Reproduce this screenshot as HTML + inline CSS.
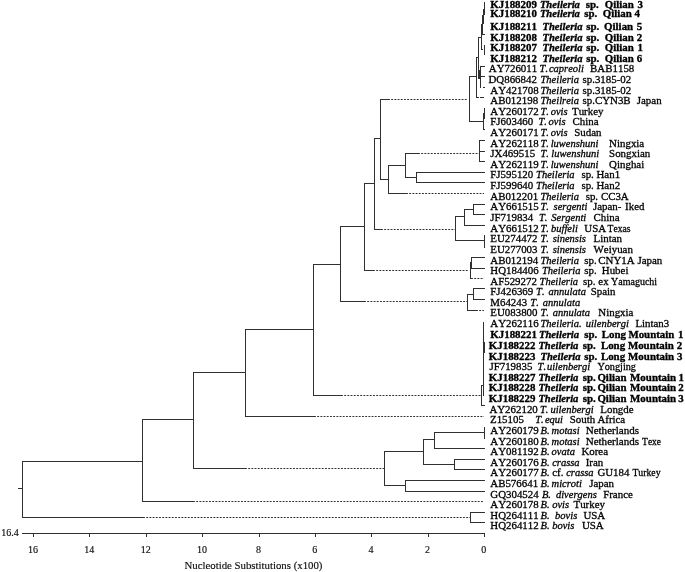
<!DOCTYPE html>
<html><head><meta charset="utf-8"><title>Phylogenetic tree</title>
<style>
html,body{margin:0;padding:0;background:#fff;}
body{width:685px;height:572px;overflow:hidden;position:relative;}
svg{position:absolute;left:0;top:0;filter:blur(0.35px);}
text{font-family:"Liberation Serif","Times New Roman",serif;font-size:10.9px;fill:#000;font-kerning:none;stroke:#000;stroke-width:0.3px;}
.b{font-weight:bold;stroke-width:0.34px;}
.i{font-style:italic;font-size:10.5px;}
.bi{font-weight:bold;font-style:italic;font-size:10.6px;stroke-width:0.34px;}
.a{font-size:10px;fill:#111;stroke-width:0.15px;}
.t{font-size:10.8px;fill:#111;stroke-width:0.15px;}
</style></head><body>
<svg width="685" height="572" viewBox="0 0 685 572">

<g stroke="#303030" stroke-width="1" fill="none" shape-rendering="crispEdges">
<line x1="484.5" y1="2" x2="484.5" y2="15"/>
<line x1="483.5" y1="9" x2="483.5" y2="24"/>
<line x1="482.5" y1="15" x2="482.5" y2="35"/>
<line x1="481.5" y1="24" x2="481.5" y2="35"/>
<line x1="481" y1="34.5" x2="485" y2="34.5"/>
<line x1="481.5" y1="34" x2="481.5" y2="50"/>
<line x1="481" y1="49.5" x2="483" y2="49.5"/>
<line x1="484.5" y1="45" x2="484.5" y2="55"/>
<line x1="478.5" y1="37" x2="478.5" y2="79"/>
<line x1="478" y1="37.5" x2="481" y2="37.5"/>
<line x1="476.5" y1="57" x2="476.5" y2="98"/>
<line x1="476" y1="57.5" x2="479" y2="57.5"/>
<line x1="476" y1="97.5" x2="479" y2="97.5"/>
<line x1="480" y1="97.5" x2="484" y2="97.5"/>
<line x1="480.5" y1="66" x2="480.5" y2="88"/>
<line x1="480" y1="66.5" x2="485" y2="66.5"/>
<line x1="480" y1="76.5" x2="485" y2="76.5"/>
<line x1="479.5" y1="70" x2="479.5" y2="79"/>
<line x1="483" y1="87.5" x2="485" y2="87.5"/>
<line x1="469" y1="76.5" x2="477" y2="76.5"/>
<line x1="469.5" y1="76" x2="469.5" y2="122"/>
<line x1="469" y1="121.5" x2="484" y2="121.5"/>
<line x1="483.5" y1="113" x2="483.5" y2="130"/>
<line x1="484.5" y1="108" x2="484.5" y2="119"/>
<line x1="483" y1="129.5" x2="485" y2="129.5"/>
<line x1="388" y1="99.5" x2="468" y2="99.5" stroke-dasharray="1.9 1.3" shape-rendering="auto"/>
<line x1="380" y1="99.5" x2="388" y2="99.5"/>
<line x1="380.5" y1="99" x2="380.5" y2="180"/>
<line x1="380" y1="179.5" x2="389" y2="179.5"/>
<line x1="374" y1="138.5" x2="381" y2="138.5"/>
<line x1="374.5" y1="138" x2="374.5" y2="230"/>
<line x1="374" y1="229.5" x2="381" y2="229.5"/>
<line x1="381" y1="229.5" x2="455" y2="229.5" stroke-dasharray="1.9 1.3" shape-rendering="auto"/>
<line x1="479.5" y1="140" x2="479.5" y2="162"/>
<line x1="479" y1="140.5" x2="485" y2="140.5"/>
<line x1="479" y1="151.5" x2="485" y2="151.5"/>
<line x1="479" y1="161.5" x2="485" y2="161.5"/>
<line x1="405" y1="153.5" x2="418" y2="153.5"/>
<line x1="418" y1="153.5" x2="479" y2="153.5" stroke-dasharray="1.9 1.3" shape-rendering="auto"/>
<line x1="405.5" y1="153" x2="405.5" y2="178"/>
<line x1="388" y1="165.5" x2="406" y2="165.5"/>
<line x1="388.5" y1="165" x2="388.5" y2="194"/>
<line x1="405" y1="177.5" x2="417" y2="177.5"/>
<line x1="416.5" y1="172" x2="416.5" y2="183"/>
<line x1="416" y1="172.5" x2="485" y2="172.5"/>
<line x1="416" y1="182.5" x2="485" y2="182.5"/>
<line x1="388" y1="193.5" x2="406" y2="193.5"/>
<line x1="406" y1="193.5" x2="484" y2="193.5" stroke-dasharray="1.9 1.3" shape-rendering="auto"/>
<line x1="364" y1="183.5" x2="375" y2="183.5"/>
<line x1="364.5" y1="183" x2="364.5" y2="271"/>
<line x1="364" y1="270.5" x2="373" y2="270.5"/>
<line x1="373" y1="270.5" x2="469" y2="270.5" stroke-dasharray="1.9 1.3" shape-rendering="auto"/>
<line x1="340" y1="226.5" x2="365" y2="226.5"/>
<line x1="340.5" y1="226" x2="340.5" y2="302"/>
<line x1="340" y1="301.5" x2="364" y2="301.5"/>
<line x1="364" y1="301.5" x2="467" y2="301.5" stroke-dasharray="1.9 1.3" shape-rendering="auto"/>
<line x1="313" y1="264.5" x2="341" y2="264.5"/>
<line x1="313.5" y1="264" x2="313.5" y2="396"/>
<line x1="313" y1="395.5" x2="341" y2="395.5"/>
<line x1="341" y1="395.5" x2="481" y2="395.5" stroke-dasharray="1.9 1.3" shape-rendering="auto"/>
<line x1="473" y1="204.5" x2="485" y2="204.5"/>
<line x1="473" y1="214.5" x2="485" y2="214.5"/>
<line x1="473.5" y1="204" x2="473.5" y2="215"/>
<line x1="464" y1="209.5" x2="474" y2="209.5"/>
<line x1="464.5" y1="209" x2="464.5" y2="226"/>
<line x1="464" y1="225.5" x2="485" y2="225.5"/>
<line x1="455" y1="216.5" x2="465" y2="216.5"/>
<line x1="455.5" y1="216" x2="455.5" y2="241"/>
<line x1="455" y1="240.5" x2="485" y2="240.5"/>
<line x1="484.5" y1="235" x2="484.5" y2="248"/>
<line x1="471" y1="257.5" x2="485" y2="257.5"/>
<line x1="471" y1="268.5" x2="485" y2="268.5"/>
<line x1="471.5" y1="257" x2="471.5" y2="269"/>
<line x1="470.5" y1="262" x2="470.5" y2="279"/>
<line x1="471" y1="278.5" x2="484" y2="278.5" stroke-dasharray="1.9 1.3" shape-rendering="auto"/>
<line x1="473" y1="288.5" x2="485" y2="288.5"/>
<line x1="473" y1="299.5" x2="485" y2="299.5"/>
<line x1="473.5" y1="288" x2="473.5" y2="300"/>
<line x1="467" y1="294.5" x2="474" y2="294.5"/>
<line x1="467.5" y1="294" x2="467.5" y2="311"/>
<line x1="467" y1="310.5" x2="476" y2="310.5"/>
<line x1="476" y1="310.5" x2="484" y2="310.5" stroke-dasharray="1.9 1.3" shape-rendering="auto"/>
<line x1="483.5" y1="322" x2="483.5" y2="396"/>
<line x1="484.5" y1="342" x2="484.5" y2="353"/>
<line x1="481.5" y1="385" x2="481.5" y2="406"/>
<line x1="481" y1="405.5" x2="485" y2="405.5"/>
<line x1="481" y1="385.5" x2="484" y2="385.5"/>
<line x1="245" y1="416.5" x2="314" y2="416.5"/>
<line x1="314" y1="416.5" x2="484" y2="416.5" stroke-dasharray="1.9 1.3" shape-rendering="auto"/>
<line x1="245.5" y1="329" x2="245.5" y2="417"/>
<line x1="245" y1="329.5" x2="314" y2="329.5"/>
<line x1="193" y1="372.5" x2="246" y2="372.5"/>
<line x1="193.5" y1="372" x2="193.5" y2="469"/>
<line x1="193" y1="468.5" x2="245" y2="468.5"/>
<line x1="245" y1="468.5" x2="384" y2="468.5" stroke-dasharray="1.9 1.3" shape-rendering="auto"/>
<line x1="142" y1="419.5" x2="194" y2="419.5"/>
<line x1="142.5" y1="419" x2="142.5" y2="502"/>
<line x1="142" y1="501.5" x2="193" y2="501.5"/>
<line x1="193" y1="501.5" x2="484" y2="501.5" stroke-dasharray="1.9 1.3" shape-rendering="auto"/>
<line x1="22" y1="461.5" x2="143" y2="461.5"/>
<line x1="22.5" y1="461" x2="22.5" y2="518"/>
<line x1="22" y1="517.5" x2="143" y2="517.5"/>
<line x1="143" y1="517.5" x2="470" y2="517.5" stroke-dasharray="1.9 1.3" shape-rendering="auto"/>
<line x1="18" y1="488.5" x2="23" y2="488.5"/>
<line x1="484.5" y1="427" x2="484.5" y2="439"/>
<line x1="434" y1="432.5" x2="485" y2="432.5"/>
<line x1="434.5" y1="432" x2="434.5" y2="449"/>
<line x1="434" y1="448.5" x2="485" y2="448.5"/>
<line x1="423" y1="439.5" x2="435" y2="439.5"/>
<line x1="423.5" y1="439" x2="423.5" y2="465"/>
<line x1="423" y1="464.5" x2="455" y2="464.5"/>
<line x1="454.5" y1="459" x2="454.5" y2="470"/>
<line x1="454" y1="459.5" x2="485" y2="459.5"/>
<line x1="454" y1="469.5" x2="485" y2="469.5"/>
<line x1="384" y1="451.5" x2="424" y2="451.5"/>
<line x1="405" y1="480.5" x2="485" y2="480.5"/>
<line x1="405" y1="491.5" x2="485" y2="491.5"/>
<line x1="405.5" y1="480" x2="405.5" y2="492"/>
<line x1="384" y1="485.5" x2="406" y2="485.5"/>
<line x1="384.5" y1="451" x2="384.5" y2="486"/>
<line x1="470" y1="512.5" x2="485" y2="512.5"/>
<line x1="470" y1="522.5" x2="485" y2="522.5"/>
<line x1="470.5" y1="512" x2="470.5" y2="523"/>
<line x1="22" y1="533.5" x2="485" y2="533.5"/>
<line x1="484.5" y1="533" x2="484.5" y2="537"/>
<line x1="428.5" y1="533" x2="428.5" y2="537"/>
<line x1="371.5" y1="533" x2="371.5" y2="537"/>
<line x1="315.5" y1="533" x2="315.5" y2="537"/>
<line x1="259.5" y1="533" x2="259.5" y2="537"/>
<line x1="202.5" y1="533" x2="202.5" y2="537"/>
<line x1="146.5" y1="533" x2="146.5" y2="537"/>
<line x1="89.5" y1="533" x2="89.5" y2="537"/>
<line x1="33.5" y1="533" x2="33.5" y2="537"/>
</g>
<text x="490.3" y="7.9" class="b">KJ188209</text>
<text x="539.9" y="7.9" class="bi">Theileria</text>
<text x="585.7" y="7.9" class="b">sp.</text>
<text x="604.7" y="7.9" class="b">Qilian</text>
<text x="637.4" y="7.9" class="b">3</text>
<text x="490.3" y="17.1" class="b">KJ188210</text>
<text x="539.9" y="17.1" class="bi">Theileria</text>
<text x="584.3" y="17.1" class="b">sp.</text>
<text x="602.7" y="17.1" class="b">Qilian</text>
<text x="634.5" y="17.1" class="b">4</text>
<text x="490.3" y="29.8" class="b">KJ188211</text>
<text x="542.5" y="29.8" class="bi">Theileria</text>
<text x="586.3" y="29.8" class="b">sp.</text>
<text x="604.1" y="29.8" class="b">Qilian</text>
<text x="636.8" y="29.8" class="b">5</text>
<text x="490.3" y="40.5" class="b">KJ188208</text>
<text x="542.5" y="40.5" class="bi">Theileria</text>
<text x="586.3" y="40.5" class="b">sp.</text>
<text x="604.7" y="40.5" class="b">Qilian</text>
<text x="636.8" y="40.5" class="b">2</text>
<text x="490.3" y="50.8" class="b">KJ188207</text>
<text x="542.5" y="50.8" class="bi">Theileria</text>
<text x="586.3" y="50.8" class="b">sp.</text>
<text x="604.7" y="50.8" class="b">Qilian</text>
<text x="637.4" y="50.8" class="b">1</text>
<text x="490.3" y="61.6" class="b">KJ188212</text>
<text x="542.5" y="61.6" class="bi">Theileria</text>
<text x="586.3" y="61.6" class="b">sp.</text>
<text x="604.7" y="61.6" class="b">Qilian</text>
<text x="636.8" y="61.6" class="b">6</text>
<text x="488.8" y="72.0">AY726011</text>
<text x="539.6" y="72.0" class="i">T.</text>
<text x="548.9" y="72.0" class="i">capreoli</text>
<text x="590.1" y="72.0">BAB1158</text>
<text x="488.5" y="82.6">DQ866842</text>
<text x="540.5" y="82.6" class="i">Theileria</text>
<text x="582.5" y="82.6">sp.3185-02</text>
<text x="490.3" y="93.7">AY421708</text>
<text x="540.5" y="93.7" class="i">Theileria</text>
<text x="582.5" y="93.7">sp.3185-02</text>
<text x="490.3" y="104.3">AB012198</text>
<text x="540.5" y="104.3" class="i">Theilreia</text>
<text x="582.5" y="104.3">sp.CYN3B</text>
<text x="636.8" y="104.3">Japan</text>
<text x="490.3" y="114.9">AY260172</text>
<text x="540.5" y="114.9" class="i">T.</text>
<text x="550.7" y="114.9" class="i">ovis</text>
<text x="572.0" y="114.9">Turkey</text>
<text x="490.3" y="125.3">FJ603460</text>
<text x="538.4" y="125.3" class="i">T.</text>
<text x="548.6" y="125.3" class="i">ovis</text>
<text x="572.6" y="125.3">China</text>
<text x="490.3" y="136.1">AY260171</text>
<text x="540.5" y="136.1" class="i">T.</text>
<text x="550.7" y="136.1" class="i">ovis</text>
<text x="574.3" y="136.1">Sudan</text>
<text x="490.3" y="146.7">AY262118</text>
<text x="540.5" y="146.7" class="i">T.</text>
<text x="550.7" y="146.7" class="i">luwenshuni</text>
<text x="609.1" y="146.7">Ningxia</text>
<text x="490.3" y="157.4">JX469515</text>
<text x="540.5" y="157.4" class="i">T.</text>
<text x="551.3" y="157.4" class="i">luwenshuni</text>
<text x="609.1" y="157.4">Songxian</text>
<text x="490.3" y="167.6">AY262119</text>
<text x="540.5" y="167.6" class="i">T.</text>
<text x="550.7" y="167.6" class="i">luwenshuni</text>
<text x="609.1" y="167.6">Qinghai</text>
<text x="490.3" y="178.4">FJ595120</text>
<text x="536.1" y="178.4" class="i">Theileria</text>
<text x="581.4" y="178.4">sp.</text>
<text x="596.5" y="178.4">Han1</text>
<text x="490.3" y="189.0">FJ599640</text>
<text x="536.1" y="189.0" class="i">Theileria</text>
<text x="581.4" y="189.0">sp.</text>
<text x="596.5" y="189.0">Han2</text>
<text x="490.3" y="200.0">AB012201</text>
<text x="540.5" y="200.0" class="i">Theileria</text>
<text x="585.7" y="200.0">sp.</text>
<text x="600.9" y="200.0">CC3A</text>
<text x="490.3" y="209.8">AY661515</text>
<text x="540.5" y="209.8" class="i">T.</text>
<text x="553.6" y="209.8" class="i">sergenti</text>
<text x="593.0" y="209.8">Japan-</text>
<text x="625.1" y="209.8">Iked</text>
<text x="490.3" y="220.8">JF719834</text>
<text x="539.0" y="220.8" class="i">T.</text>
<text x="551.3" y="220.8" class="i">Sergenti</text>
<text x="593.6" y="220.8">China</text>
<text x="490.3" y="231.7">AY661512</text>
<text x="540.5" y="231.7" class="i">T.</text>
<text x="551.0" y="231.7" class="i">buffeli</text>
<text x="584.3" y="231.7">USA</text>
<text x="607.6" y="231.7" textLength="23.0" lengthAdjust="spacingAndGlyphs">Texas</text>
<text x="490.3" y="242.1">EU274472</text>
<text x="540.5" y="242.1" class="i">T.</text>
<text x="552.7" y="242.1" class="i">sinensis</text>
<text x="593.6" y="242.1">Lintan</text>
<text x="490.3" y="252.7">EU277003</text>
<text x="540.5" y="252.7" class="i">T.</text>
<text x="552.7" y="252.7" class="i">sinensis</text>
<text x="593.6" y="252.7">Weiyuan</text>
<text x="490.3" y="263.6">AB012194</text>
<text x="540.5" y="263.6" class="i">Theileria</text>
<text x="584.3" y="263.6">sp.</text>
<text x="598.3" y="263.6">CNY1A</text>
<text x="637.4" y="263.6">Japan</text>
<text x="490.3" y="273.6">HQ184406</text>
<text x="541.9" y="273.6" class="i">Theileria</text>
<text x="584.3" y="273.6">sp.</text>
<text x="601.8" y="273.6">Hubei</text>
<text x="490.3" y="285.1">AF529272</text>
<text x="539.6" y="285.1" class="i">Theileria</text>
<text x="583.1" y="285.1">sp.</text>
<text x="598.3" y="285.1">ex</text>
<text x="611.1" y="285.1" textLength="46.0" lengthAdjust="spacingAndGlyphs">Yamaguchi</text>
<text x="490.3" y="295.0">FJ426369</text>
<text x="536.1" y="295.0" class="i">T.</text>
<text x="548.6" y="295.0" class="i">annulata</text>
<text x="590.7" y="295.0">Spain</text>
<text x="490.3" y="306.0">M64243</text>
<text x="530.3" y="306.0" class="i">T.</text>
<text x="542.8" y="306.0" class="i">annulata</text>
<text x="490.3" y="316.3">EU083800</text>
<text x="540.5" y="316.3" class="i">T.</text>
<text x="552.7" y="316.3" class="i">annulata</text>
<text x="598.3" y="316.3">Ningxia</text>
<text x="490.3" y="327.3">AY262116</text>
<text x="540.5" y="327.3" class="i">Theileria.</text>
<text x="585.7" y="327.3" class="i">uilenbergi</text>
<text x="635.4" y="327.3">Lintan3</text>
<text x="490.3" y="338.4" class="b">KJ188221</text>
<text x="539.0" y="338.4" class="bi">Theileria</text>
<text x="584.3" y="338.4" class="b">sp.</text>
<text x="601.8" y="338.4" class="b">Long</text>
<text x="628.4" y="338.4" class="b">Mountain</text>
<text x="678.0" y="338.4" class="b">1</text>
<text x="488.8" y="348.8" class="b">KJ188222</text>
<text x="538.4" y="348.8" class="bi">Theileria</text>
<text x="582.8" y="348.8" class="b">sp.</text>
<text x="600.9" y="348.8" class="b">Long</text>
<text x="627.9" y="348.8" class="b">Mountain</text>
<text x="676.8" y="348.8" class="b">2</text>
<text x="488.8" y="359.5" class="b">KJ188223</text>
<text x="540.5" y="359.5" class="bi">Theileria</text>
<text x="584.3" y="359.5" class="b">sp.</text>
<text x="600.9" y="359.5" class="b">Long</text>
<text x="628.1" y="359.5" class="b">Mountain</text>
<text x="677.1" y="359.5" class="b">3</text>
<text x="489.4" y="369.6">JF719835</text>
<text x="537.6" y="369.6" class="i">T.</text>
<text x="546.9" y="369.6" class="i">uilenbergi</text>
<text x="597.4" y="369.6" textLength="38.6" lengthAdjust="spacingAndGlyphs">Yongjing</text>
<text x="488.8" y="380.9" class="b">KJ188227</text>
<text x="538.4" y="380.9" class="bi">Theileria</text>
<text x="582.8" y="380.9" class="b">sp.</text>
<text x="597.4" y="380.9" class="b">Qilian</text>
<text x="630.1" y="380.9" class="b">Mountain</text>
<text x="678.6" y="380.9" class="b">1</text>
<text x="488.8" y="391.4" class="b">KJ188228</text>
<text x="538.4" y="391.4" class="bi">Theileria</text>
<text x="582.8" y="391.4" class="b">sp.</text>
<text x="597.4" y="391.4" class="b">Qilian</text>
<text x="630.1" y="391.4" class="b">Mountain</text>
<text x="678.3" y="391.4" class="b">2</text>
<text x="488.8" y="402.2" class="b">KJ188229</text>
<text x="538.4" y="402.2" class="bi">Theileria</text>
<text x="582.8" y="402.2" class="b">sp.</text>
<text x="597.4" y="402.2" class="b">Qilian</text>
<text x="630.1" y="402.2" class="b">Mountain</text>
<text x="678.3" y="402.2" class="b">3</text>
<text x="489.4" y="412.8">AY262120</text>
<text x="539.9" y="412.8" class="i">T.</text>
<text x="550.4" y="412.8" class="i">uilenbergi</text>
<text x="600.3" y="412.8">Longde</text>
<text x="490.0" y="423.1">Z15105</text>
<text x="535.2" y="423.1" class="i">T.</text>
<text x="544.9" y="423.1" class="i">equi</text>
<text x="569.7" y="423.1">South</text>
<text x="597.4" y="423.1">Africa</text>
<text x="490.3" y="433.7">AY260179</text>
<text x="540.5" y="433.7" class="i">B.</text>
<text x="551.6" y="433.7" class="i">motasi</text>
<text x="585.7" y="433.7" textLength="53.3" lengthAdjust="spacingAndGlyphs">Netherlands</text>
<text x="490.3" y="444.5">AY260180</text>
<text x="540.5" y="444.5" class="i">B.</text>
<text x="551.6" y="444.5" class="i">motasi</text>
<text x="585.7" y="444.5" textLength="53.3" lengthAdjust="spacingAndGlyphs">Netherlands</text>
<text x="642.1" y="444.5" textLength="19.0" lengthAdjust="spacingAndGlyphs">Texe</text>
<text x="490.3" y="454.9">AY081192</text>
<text x="540.5" y="454.9" class="i">B.</text>
<text x="551.6" y="454.9" class="i">ovata</text>
<text x="581.4" y="454.9">Korea</text>
<text x="490.3" y="465.8">AY260176</text>
<text x="540.5" y="465.8" class="i">B.</text>
<text x="552.2" y="465.8" class="i">crassa</text>
<text x="585.7" y="465.8">Iran</text>
<text x="490.3" y="476.0">AY260177</text>
<text x="540.5" y="476.0" class="i">B.</text>
<text x="552.2" y="476.0">cf.</text>
<text x="566.2" y="476.0" class="i">crassa</text>
<text x="597.4" y="476.0">GU184</text>
<text x="632.4" y="476.0" textLength="28.2" lengthAdjust="spacingAndGlyphs">Turkey</text>
<text x="490.3" y="487.0">AB576641</text>
<text x="540.5" y="487.0" class="i">B.</text>
<text x="551.6" y="487.0" class="i">microti</text>
<text x="589.2" y="487.0">Japan</text>
<text x="490.3" y="497.9">GQ304524</text>
<text x="541.9" y="497.9" class="i">B.</text>
<text x="555.9" y="497.9" class="i">divergens</text>
<text x="603.2" y="497.9">France</text>
<text x="490.3" y="508.1">AY260178</text>
<text x="540.5" y="508.1" class="i">B.</text>
<text x="552.2" y="508.1" class="i">ovis</text>
<text x="573.5" y="508.1">Turkey</text>
<text x="490.3" y="518.9">HQ264111</text>
<text x="540.5" y="518.9" class="i">B.</text>
<text x="555.1" y="518.9" class="i">bovis</text>
<text x="583.4" y="518.9">USA</text>
<text x="490.3" y="529.2">HQ264112</text>
<text x="540.5" y="529.2" class="i">B.</text>
<text x="552.2" y="529.2" class="i">bovis</text>
<text x="581.9" y="529.2">USA</text>
<text class="a" x="483.8" y="553.3" text-anchor="middle">0</text>
<text class="a" x="427.4" y="553.3" text-anchor="middle">2</text>
<text class="a" x="371.1" y="553.3" text-anchor="middle">4</text>
<text class="a" x="314.7" y="553.3" text-anchor="middle">6</text>
<text class="a" x="258.4" y="553.3" text-anchor="middle">8</text>
<text class="a" x="202.0" y="553.3" text-anchor="middle">10</text>
<text class="a" x="145.7" y="553.3" text-anchor="middle">12</text>
<text class="a" x="89.3" y="553.3" text-anchor="middle">14</text>
<text class="a" x="33.0" y="553.3" text-anchor="middle">16</text>
<text class="a" x="1.3" y="536.1">16.4</text>
<text class="t" x="184.5" y="569">Nucleotide Substitutions (x100)</text>
</svg></body></html>
